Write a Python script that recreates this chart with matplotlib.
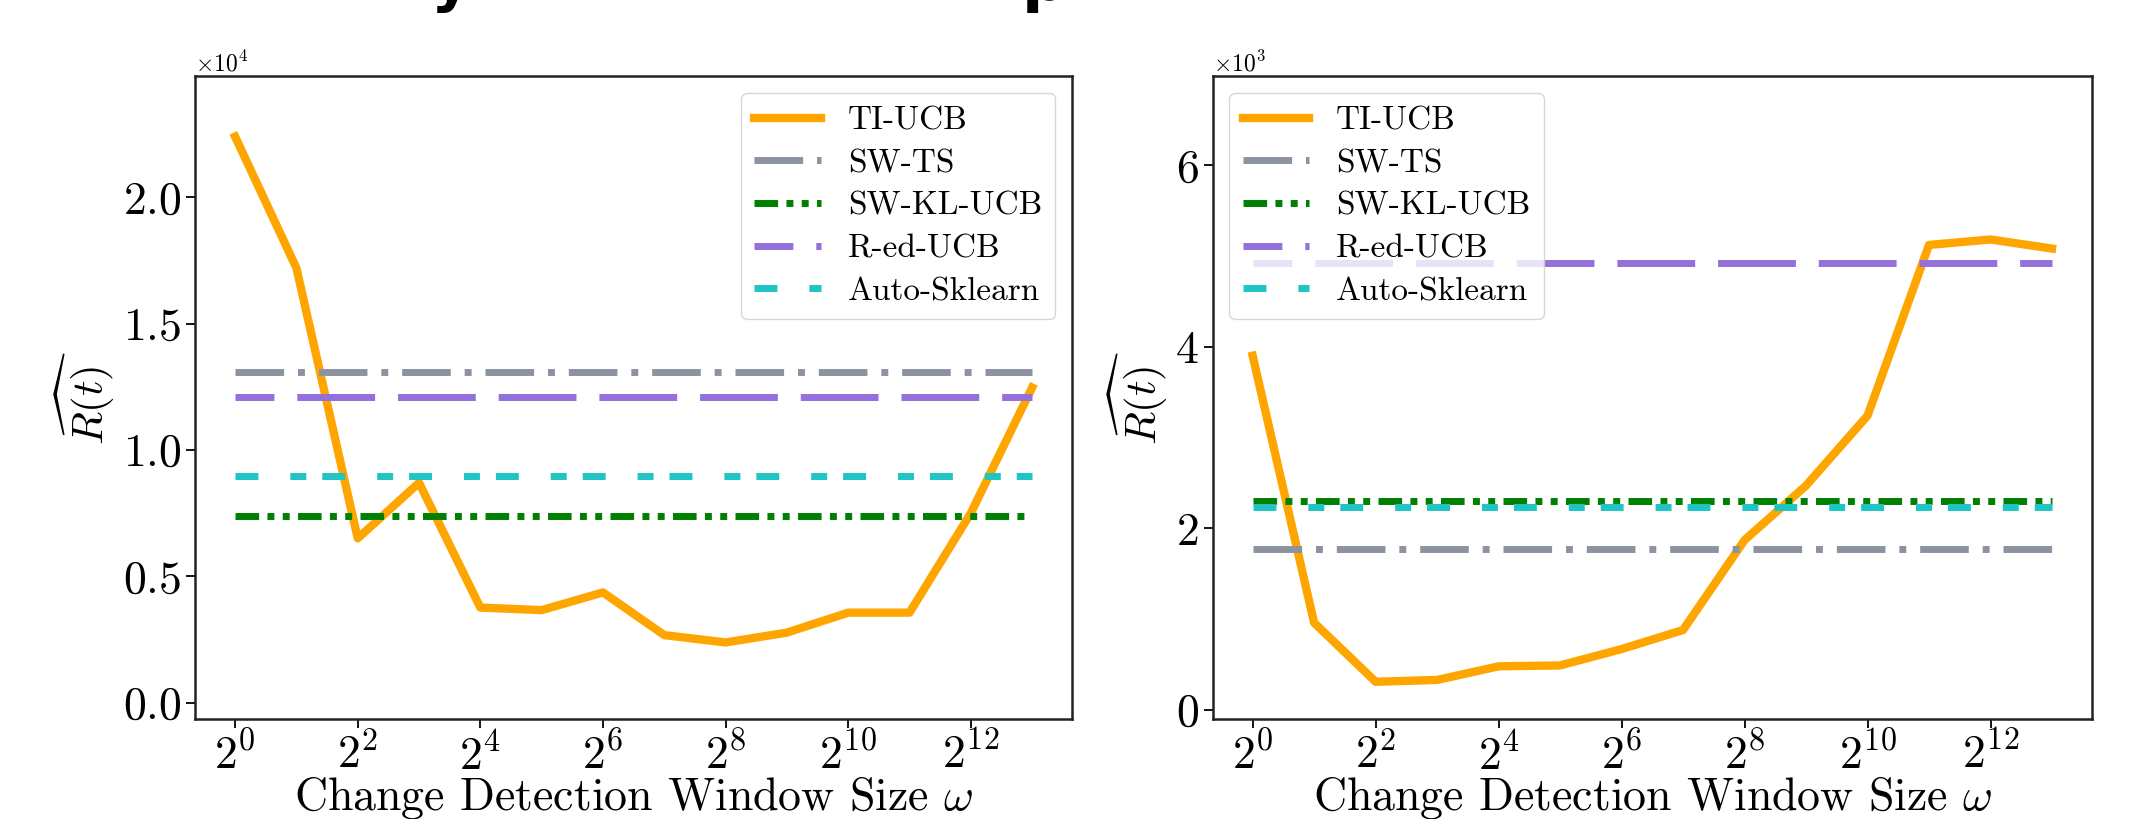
## Change detection window size sweep
import matplotlib.pyplot as plt
import numpy as np

plt.rcParams["font.family"] = "serif"
plt.rcParams["font.serif"] = ["cmr10"]
plt.rcParams["mathtext.fontset"] = "cm"
plt.rcParams["axes.formatter.use_mathtext"] = True
plt.rcParams["axes.unicode_minus"] = False

## ----- data ----- ##
exponents = np.arange(14)
window = 2.0 ** exponents

# left panel
ti_ucb_a = [22400, 17200, 6500, 8700, 3760, 3660, 4360, 2670, 2380, 2770, 3560, 3560, 7500, 12470]
sw_ts_a = 13070
sw_kl_ucb_a = 7390
red_ucb_a = 12080
auto_sk_a = 8970

# right panel
ti_ucb_b = [3900, 960, 310, 330, 480, 490, 670, 880, 1870, 2470, 3240, 5120, 5180, 5080]
sw_ts_b = 1770
sw_kl_ucb_b = 2300
red_ucb_b = 4920
auto_sk_b = 2230

names = ["TI-UCB", "SW-TS", "SW-KL-UCB", "R-ed-UCB", "Auto-Sklearn"]
colors = ["orange", "#8c93a0", "green", "mediumpurple", "#1fc4c4"]
styles = ["-", (0, (7, 2, 1, 2)), (0, (3.4, 1.2, 1.0, 1.2, 1.0, 1.2)),
          (5.6, (11.2, 3.3)), (0, (3.3, 4.6, 2.3, 2.3))]

fig = plt.figure(figsize=(21.41, 8.19), dpi=100)
ax1 = fig.add_axes([0.0912, 0.1221, 0.4095, 0.7851])
ax2 = fig.add_axes([0.5664, 0.1221, 0.4107, 0.7851])


def draw(ax, curve, flat, ylim, yticks, loc):
    ax.plot(window, curve, color=colors[0], lw=6, label=names[0])
    for k, val in enumerate(flat):
        ax.plot(window, [val] * len(window), color=colors[k + 1], lw=5,
                linestyle=styles[k + 1], label=names[k + 1])
    ax.set_xscale("log", base=2)
    ax.set_xticks(window[::2], labels=[f"$2^{{{e}}}$" for e in exponents[::2]])
    ax.minorticks_off()
    ax.set_ylim(*ylim)
    ax.set_yticks(yticks)
    ax.ticklabel_format(axis="y", style="sci", scilimits=(0, 0))
    ax.yaxis.get_offset_text().set_fontsize(17)
    ax.tick_params(labelsize=33, length=6.5, width=1.3)
    for sp in ax.spines.values():
        sp.set_linewidth(1.8)
        sp.set_color("#222222")
    ax.set_xlabel(r"Change Detection Window Size $\omega$", fontsize=33, labelpad=-2)
    ax.set_ylabel(r"$\widehat{R(t)}$", fontsize=31, labelpad=4)
    ax.legend(loc=loc, fontsize=24, labelspacing=0.4)


draw(ax1, ti_ucb_a, [sw_ts_a, sw_kl_ucb_a, red_ucb_a, auto_sk_a],
     (-650, 24800), [0, 5000, 10000, 15000, 20000], "upper right")
draw(ax2, ti_ucb_b, [sw_ts_b, sw_kl_ucb_b, red_ucb_b, auto_sk_b],
     (-100, 6980), [0, 2000, 4000, 6000], "upper left")

# slide title above, cut off by the top edge
fig.text(430 / 2141, 1.0, "y", family="DejaVu Sans", weight="bold", fontsize=45, va="baseline")
fig.text(1022 / 2141, 1.0, "p", family="DejaVu Sans", weight="bold", fontsize=45, va="baseline")

fig.savefig("out.png", dpi=100)
